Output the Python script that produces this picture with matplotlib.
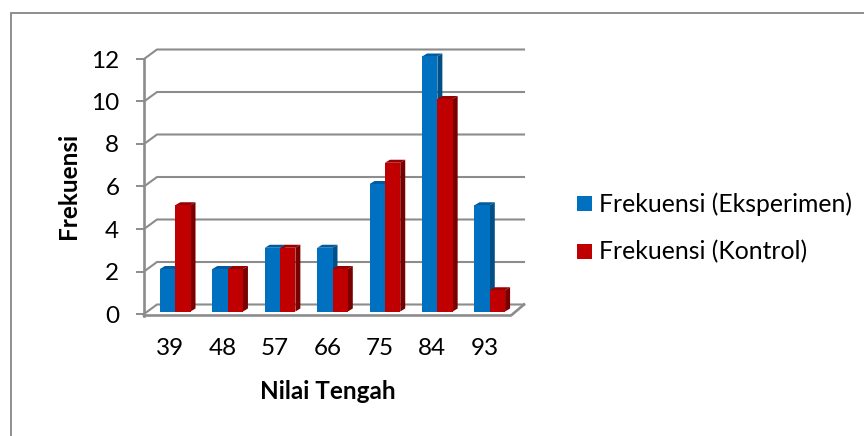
import matplotlib
matplotlib.use("Agg")
import matplotlib.pyplot as plt
from matplotlib.lines import Line2D
from matplotlib.patches import Polygon, Rectangle

categories = ["39", "48", "57", "66", "75", "84", "93"]
eksperimen = [2, 2, 3, 3, 6, 12, 5]
kontrol = [5, 2, 3, 2, 7, 10, 1]
y_ticks = [0, 2, 4, 6, 8, 10, 12]

W, H = 864, 436
FONT = "Lato"

# pixel placement of the front plane of the chart
LEFT, RIGHT = 144, 511
Y0, Y12 = 314, 59
PX_X = (RIGHT - LEFT) / len(categories)
PX_Y = (Y0 - Y12) / 12

# 3d look, converted to data units
WALL_X, WALL_Y = 13 / PX_X, 9.5 / PX_Y
BAR_SHIFT_X, BAR_SHIFT_Y = 5 / PX_X, 2.5 / PX_Y
DEPTH_X, DEPTH_Y = 5 / PX_X, 3 / PX_Y
BAR_W = 15.3 / PX_X

GRID = "#8c8c8c"


def Draw_Bar(ax, x, value, front, top, side):
    base = BAR_SHIFT_Y
    ax.add_patch(Rectangle((x, base), BAR_W, value, facecolor=front, edgecolor="none", zorder=4, clip_on=False))
    ax.add_patch(Polygon([(x, base + value), (x + DEPTH_X, base + value + DEPTH_Y),
                          (x + BAR_W + DEPTH_X, base + value + DEPTH_Y), (x + BAR_W, base + value)],
                         facecolor=top, edgecolor="none", zorder=3, clip_on=False))
    ax.add_patch(Polygon([(x + BAR_W, base), (x + BAR_W + DEPTH_X, base + DEPTH_Y),
                          (x + BAR_W + DEPTH_X, base + value + DEPTH_Y), (x + BAR_W, base + value)],
                         facecolor=side, edgecolor="none", zorder=3, clip_on=False))


fig = plt.figure(figsize=(W / 100, H / 100), dpi=100)
fig.patch.set_facecolor("white")

# outer frame, only left and top are inside the picture
fig.add_artist(Line2D([10.5 / W, 10.5 / W, 1], [0, 1 - 13 / H, 1 - 13 / H], color="#868686", lw=1.3,
                      solid_joinstyle="miter", zorder=-1))

ax = fig.add_axes([LEFT / W, 1 - Y0 / H, (RIGHT - LEFT) / W, (Y0 - Y12) / H])
ax.set_xlim(0, len(categories))
ax.set_ylim(0, 12)
ax.patch.set_alpha(0)
for spine in ax.spines.values():
    spine.set_visible(False)

# back wall lines with their diagonal to the front axis
for tick in y_ticks:
    ax.plot([0, WALL_X, len(categories) + WALL_X], [tick, tick + WALL_Y, tick + WALL_Y],
            color=GRID, lw=1.5, clip_on=False, zorder=1, solid_joinstyle="miter")

# floor and front axis
floor_y = -1.5 / PX_Y
ax.plot([0, len(categories), len(categories) + WALL_X], [floor_y, floor_y, WALL_Y],
        color=GRID, lw=1.9, clip_on=False, zorder=5)
ax.plot([0, 0], [floor_y, 12], color=GRID, lw=1.9, clip_on=False, zorder=5)

for i in range(len(categories)):
    middle = i + 0.5 + BAR_SHIFT_X
    Draw_Bar(ax, middle - BAR_W, eksperimen[i], "#0070c0", "#005c9e", "#004f86")
    Draw_Bar(ax, middle, kontrol[i], "#c00000", "#990000", "#7a0000")

ax.set_xticks([i + 0.5 for i in range(len(categories))], categories)
ax.set_yticks(y_ticks, [str(t) for t in y_ticks])
ax.tick_params(axis="x", length=0, pad=17, labelsize=17.5, labelcolor="black")
ax.tick_params(axis="y", length=5.8, width=1.4, color=GRID, pad=12, labelsize=17.5, labelcolor="black")
for label in ax.get_xticklabels() + ax.get_yticklabels():
    label.set_fontfamily(FONT)

fig.text(68 / W, 1 - 186 / H, "Frekuensi", rotation=90, ha="center", va="center",
         fontsize=17.5, fontweight="bold", family=FONT)
fig.text(328 / W, 1 - 391 / H, "Nilai Tengah", ha="center", va="center",
         fontsize=17.5, fontweight="bold", family=FONT)

# legend
legend_names = ["Frekuensi (Eksperimen)", "Frekuensi (Kontrol)"]
legend_colors = ["#0070c0", "#c00000"]
legend_y = [204, 252]
for name, color, y in zip(legend_names, legend_colors, legend_y):
    fig.add_artist(Rectangle((577 / W, 1 - (y + 7) / H), 15 / W, 15 / H, transform=fig.transFigure,
                             facecolor=color, edgecolor="none"))
    fig.text(599 / W, 1 - y / H, name, ha="left", va="center", fontsize=17.8, family=FONT)

fig.savefig("out.png", dpi=100)
